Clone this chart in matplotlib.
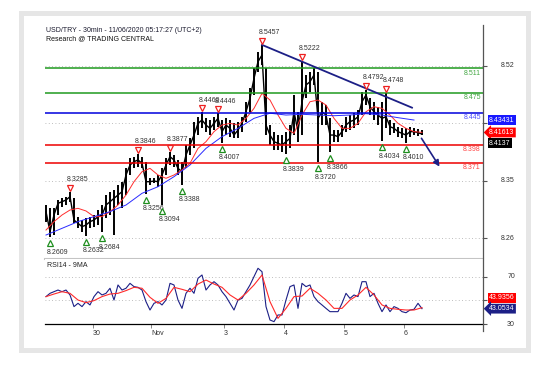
import numpy as np
import matplotlib
matplotlib.use("Agg")
import matplotlib.pyplot as plt
from matplotlib.transforms import blended_transform_factory, offset_copy
from matplotlib.lines import Line2D
from matplotlib.patches import Rectangle

plt.rcParams['font.family'] = ['Liberation Sans', 'DejaVu Sans']

# time grid: hours after the "30" tick, one sample every 1.6 h
n = 95
t = -18.8 + 1.6 * np.arange(n)

close = [8.2990, 8.2694, 8.2940, 8.3113, 8.3137, 8.3162, 8.3211, 8.2866, 8.2817, 8.2768,
         8.2792, 8.2842, 8.2866, 8.2916, 8.2940, 8.3088, 8.3137, 8.3187, 8.3236, 8.3285,
         8.3532, 8.3680, 8.3729, 8.3754, 8.3705, 8.3433, 8.3433, 8.3443, 8.3433, 8.3532,
         8.3680, 8.3803, 8.3754, 8.3630, 8.3581, 8.3828, 8.3975, 8.4123, 8.4296, 8.4345,
         8.4271, 8.4222, 8.4296, 8.4370, 8.4173, 8.4271, 8.4222, 8.4123, 8.4197, 8.4296,
         8.4468, 8.4666, 8.4961, 8.5208, 8.5307, 8.4271, 8.4123, 8.4025, 8.4000, 8.3975,
         8.4025, 8.4074, 8.4468, 8.4173, 8.4616, 8.4863, 8.4912, 8.5011, 8.4370, 8.4468,
         8.4419, 8.4123, 8.4123, 8.4099, 8.4173, 8.4271, 8.4321, 8.4345, 8.4395, 8.4616,
         8.4715, 8.4542, 8.4468, 8.4419, 8.4370, 8.4395, 8.4247, 8.4222, 8.4173, 8.4148,
         8.4123, 8.4173, 8.4173, 8.4158, 8.4137]
high = [8.3088, 8.3039, 8.3039, 8.3162, 8.3187, 8.3211, 8.3285, 8.3187, 8.2916, 8.2866,
        8.2891, 8.2916, 8.2940, 8.3014, 8.3088, 8.3236, 8.3285, 8.3310, 8.3384, 8.3433,
        8.3630, 8.3778, 8.3803, 8.3846, 8.3803, 8.3729, 8.3483, 8.3483, 8.3532, 8.3630,
        8.3778, 8.3877, 8.3828, 8.3754, 8.3729, 8.3975, 8.4074, 8.4321, 8.4395, 8.4460,
        8.4370, 8.4345, 8.4395, 8.4446, 8.4345, 8.4370, 8.4345, 8.4296, 8.4321, 8.4395,
        8.4616, 8.4814, 8.5109, 8.5356, 8.5457, 8.5109, 8.4271, 8.4173, 8.4123, 8.4123,
        8.4173, 8.4271, 8.4715, 8.4468, 8.5222, 8.5011, 8.5060, 8.5109, 8.5060, 8.4616,
        8.4567, 8.4370, 8.4197, 8.4197, 8.4271, 8.4395, 8.4419, 8.4443, 8.4493, 8.4764,
        8.4792, 8.4666, 8.4616, 8.4542, 8.4616, 8.4748, 8.4345, 8.4296, 8.4247, 8.4222,
        8.4222, 8.4247, 8.4232, 8.4212, 8.4197]
low = [8.2842, 8.2609, 8.2644, 8.2940, 8.3063, 8.3088, 8.3137, 8.2817, 8.2743, 8.2694,
       8.2632, 8.2743, 8.2768, 8.2792, 8.2684, 8.2891, 8.2940, 8.2650, 8.3088, 8.3039,
       8.3236, 8.3532, 8.3630, 8.3655, 8.3630, 8.3256, 8.3384, 8.3409, 8.3359, 8.3094,
       8.3532, 8.3680, 8.3655, 8.3532, 8.3388, 8.3630, 8.3828, 8.3926, 8.4123, 8.4222,
       8.4173, 8.4123, 8.4197, 8.4247, 8.4007, 8.4123, 8.4099, 8.4074, 8.4074, 8.4173,
       8.4321, 8.4468, 8.4715, 8.5060, 8.5159, 8.4123, 8.3975, 8.3902, 8.3902, 8.3877,
       8.3839, 8.3926, 8.4123, 8.4025, 8.4123, 8.4666, 8.4764, 8.4863, 8.3720, 8.4271,
       8.4271, 8.3866, 8.4025, 8.4025, 8.4099, 8.4173, 8.4197, 8.4222, 8.4271, 8.4419,
       8.4567, 8.4419, 8.4345, 8.4271, 8.4034, 8.4222, 8.4123, 8.4148, 8.4099, 8.4074,
       8.4010, 8.4099, 8.4123, 8.4114, 8.4123]

# moving averages (red on every 2nd sample, blue on every 4th)
ma_red = [8.2718, 8.2842, 8.2940, 8.3014, 8.3039, 8.3000, 8.2916, 8.2916, 8.2990, 8.3088,
          8.3236, 8.3433, 8.3581, 8.3630, 8.3532, 8.3483, 8.3532, 8.3606, 8.3705, 8.3926,
          8.4025, 8.4173, 8.4271, 8.4296, 8.4271, 8.4370, 8.4518, 8.4740, 8.4641, 8.4419,
          8.4222, 8.4148, 8.4419, 8.4616, 8.4641, 8.4567, 8.4370, 8.4222, 8.4222, 8.4296,
          8.4468, 8.4542, 8.4518, 8.4419, 8.4296, 8.4222, 8.4173, 8.4163]
ma_blue = [8.2644, 8.2743, 8.2842, 8.2916, 8.2990, 8.3088, 8.3261, 8.3359, 8.3507, 8.3680,
           8.3926, 8.4099, 8.4222, 8.4370, 8.4446, 8.4419, 8.4430, 8.4419, 8.4409, 8.4419,
           8.4439, 8.4419, 8.4380, 8.4345]

rsi = [53.3, 56.1, 57.5, 58.9, 57.5, 58.9, 54.7, 44.8, 47.6, 44.8,
       49.0, 46.2, 53.3, 57.5, 54.7, 56.1, 60.4, 50.4, 63.2, 58.9,
       60.4, 64.6, 61.8, 61.2, 58.9, 49.0, 41.9, 47.6, 49.0, 46.2,
       50.4, 64.6, 63.2, 50.4, 43.3, 56.1, 60.4, 56.1, 68.9, 71.7,
       58.9, 63.2, 66.0, 63.2, 57.5, 53.3, 47.6, 41.9, 50.4, 51.8,
       57.5, 63.2, 70.3, 77.4, 74.5, 44.8, 33.4, 32.0, 37.7, 37.7,
       50.4, 61.8, 63.2, 43.3, 64.6, 61.8, 63.2, 53.3, 49.0, 46.2,
       43.3, 40.5, 40.5, 40.5, 47.6, 56.1, 51.8, 54.7, 53.3, 66.0,
       66.0, 53.3, 56.1, 47.6, 40.5, 46.2, 40.5, 44.8, 43.3, 40.5,
       39.6, 41.9, 42.5, 47.6, 43.05]
rsi_ma = [53.3, 55.5, 57.5, 56.1, 50.4, 48.2, 49.9, 53.3, 55.5, 56.1,
          58.4, 61.2, 60.4, 52.7, 47.6, 51.8, 61.2, 59.5, 57.5, 64.0,
          67.4, 64.0, 61.2, 54.7, 50.4, 56.1, 63.2, 71.7, 49.0, 34.8,
          43.3, 53.3, 53.8, 60.4, 56.1, 50.4, 43.3, 43.3, 50.4, 54.7,
          61.2, 54.7, 46.2, 43.3, 42.5, 41.9, 41.9, 43.9]

high_idx = [6, 23, 31, 39, 43, 54, 64, 80, 85]
low_idx = [1, 10, 14, 25, 29, 34, 44, 60, 68, 71, 84, 90]

levels = [8.511, 8.475, 8.445, 8.398, 8.371]
level_colors = ['#1f9a1f', '#1f9a1f', '#0000dd', '#ee0000', '#ee0000']
level_text_colors = ['#45a845', '#45a845', '#5050ff', '#ff4545', '#ff4545']

trend_t = [67.6, 127.6]
trend_p = [8.5457, 8.4528]
arrow_t = [130.8, 139.2]
arrow_p = [8.4109, 8.3621]

day_ticks = [0, 23.2, 52.4, 76.4, 100.4, 124.4]
day_labels = ['30', 'Nov', '3', '4', '5', '6']
price_ticks = [8.26, 8.345, 8.43, 8.515]
# the 8.43 label sits under the blue value box in the original, so it is not drawn
price_labels = ['8.26', '8.35', '', '8.52']

navy = '#1c1f86'
W, H = 539, 365
FS = 5


def box(x0, y0, x1, y1):
    return [x0 / W, 1 - y1 / H, (x1 - x0) / W, (y1 - y0) / H]


fig = plt.figure(figsize=(W / 100, H / 100), dpi=100)
fig.patch.set_facecolor('white')
fig.add_artist(Rectangle((20.5 / W, 1 - 349.5 / H), 507 / W, 337 / H, transform=fig.transFigure,
                         fill=False, ec='#e6e6e6', lw=3.6))

ax = fig.add_axes(box(45, 25, 483, 259))
ax2 = fig.add_axes(box(45, 259, 483, 324))
for a in (ax, ax2):
    a.set_xlim(-19.2, 156)
    for s in a.spines.values():
        s.set_visible(False)
ax.set_ylim(8.26 - 21 / 676, 8.26 + 213 / 676)
ax2.set_ylim(30, 85.3)

ax.spines['bottom'].set_visible(True)
ax.spines['bottom'].set_color('#c4c4c4')
ax.spines['bottom'].set_linewidth(1.5)
ax2.spines['bottom'].set_visible(True)
ax2.spines['bottom'].set_color('black')
ax2.spines['bottom'].set_linewidth(0.9)

# dotted grid
for v in price_ticks:
    ax.axhline(v, color='#a8a8a8', lw=0.6, ls=(0, (1, 3)), zorder=1)
for v in [70, 50]:
    ax2.axhline(v, color='#a8a8a8', lw=0.6, ls=(0, (1, 3)), zorder=1)

# price bars
ax.vlines(t, low, high, color='black', lw=1.4, zorder=2)
ax.plot(t, close, color='black', lw=1.0, zorder=2)
ax.plot(t[::2], ma_red, color='#ff2e2e', lw=0.7, zorder=3)
ax.plot(t[::4], ma_blue, color='#2a2aff', lw=0.7, zorder=3)

# levels
trY = blended_transform_factory(ax.transAxes, ax.transData)
for lv, c, tc in zip(levels, level_colors, level_text_colors):
    ax.axhline(lv, color=c, lw=1.1, zorder=4)
    ax.text(0.995, lv, f'{lv:.3f}', transform=offset_copy(trY, fig=fig, y=-5, units='dots'),
            ha='right', va='center', fontsize=FS, color=tc)

# trend line + arrow
ax.plot(trend_t, trend_p, color=navy, lw=1.3, zorder=5)
ax.annotate('', xy=(arrow_t[1], arrow_p[1]), xytext=(arrow_t[0], arrow_p[0]),
            arrowprops=dict(arrowstyle='-|>', color=navy, lw=1.2, mutation_scale=9), zorder=5)

# pivot markers
up_m = offset_copy(ax.transData, fig=fig, y=4, units='dots')
up_t = offset_copy(ax.transData, fig=fig, x=-3, y=12, units='dots')
dn_m = offset_copy(ax.transData, fig=fig, y=-6, units='dots')
dn_t = offset_copy(ax.transData, fig=fig, x=-3, y=-15, units='dots')
for i in high_idx:
    ax.plot(t[i], high[i], marker='v', ms=5, mfc='white', mec='#ee2020', mew=0.9,
            transform=up_m, zorder=6)
    ax.text(t[i], high[i], f'{high[i]:.4f}', transform=up_t, ha='left', va='center',
            fontsize=FS, color='#333333', zorder=6)
for i in low_idx:
    ax.plot(t[i], low[i], marker='^', ms=5, mfc='white', mec='#1e8e1e', mew=0.9,
            transform=dn_m, zorder=6)
    ax.text(t[i], low[i], f'{low[i]:.4f}', transform=dn_t, ha='left', va='center',
            fontsize=FS, color='#333333', zorder=6)

# right price scale
ax.set_xticks([])
ax.set_yticks(price_ticks)
ax.yaxis.set_ticks_position('right')
ax.tick_params(axis='y', direction='out', length=3, width=0.8, color='#555555', labelright=False)
for v, lab in zip(price_ticks, price_labels):
    if lab:
        ax.text(1.073, v, lab, transform=trY, ha='right', va='center', fontsize=FS, color='#333333')

bx = (489 - 45) / 438
ax.text(bx, 8.43431, '8.43431', transform=trY, ha='left', va='center', fontsize=FS, color='white',
        bbox=dict(boxstyle='square,pad=0.2', fc='#1818ff', ec='none'), zorder=7)
ax.text(bx, 8.41613, '8.41613', transform=trY, ha='left', va='center', fontsize=FS, color='white',
        bbox=dict(boxstyle='larrow,pad=0.2', fc='#ff0000', ec='none'), zorder=7)
ax.text(bx, close[-1], f'{close[-1]:.4f}', transform=offset_copy(trY, fig=fig, y=-9, units='dots'),
        ha='left', va='center', fontsize=FS, color='white',
        bbox=dict(boxstyle='square,pad=0.2', fc='black', ec='none'), zorder=7)

# RSI panel
ax2.plot(t, rsi, color=navy, lw=0.8, zorder=3)
ax2.plot(t[::2], rsi_ma, color='#ff2a2a', lw=0.8, zorder=3)
ax2.text(0.005, 0.9, 'RSI14 - 9MA', transform=ax2.transAxes, ha='left', va='center',
         fontsize=FS, color='#222222')
tr2 = blended_transform_factory(ax2.transAxes, ax2.transData)
ax2.set_yticks([30, 50, 70])
ax2.yaxis.set_ticks_position('right')
ax2.tick_params(axis='y', direction='out', length=3, width=0.8, color='#555555', labelright=False)
for v in [70, 30]:
    ax2.text(1.073, v, str(v), transform=tr2, ha='right', va='center', fontsize=FS, color='#333333')
ax2.text(bx, rsi_ma[-1], '43.9356', transform=offset_copy(tr2, fig=fig, y=10, units='dots'),
         ha='left', va='center', fontsize=FS, color='white',
         bbox=dict(boxstyle='square,pad=0.2', fc='#ff0000', ec='none'), zorder=7)
ax2.text(bx, rsi[-1], '43.0534', transform=tr2, ha='left', va='center', fontsize=FS, color='white',
         bbox=dict(boxstyle='larrow,pad=0.2', fc=navy, ec='none'), zorder=7)

ax2.set_xticks(day_ticks)
ax2.set_xticklabels(day_labels, fontsize=FS, color='#333333')
for lbl in ax2.get_xticklabels():
    lbl.set_ha('left')
ax2.tick_params(axis='x', direction='out', length=3, width=0.7, color='#888888', pad=1)

# right axis line across both panels
fig.add_artist(Line2D([483 / W, 483 / W], [1 - 25 / H, 1 - 331 / H], color='#555555', lw=0.9))

fig.text(46 / W, 1 - 30 / H, 'USD/TRY - 30min - 11/06/2020 05:17:27 (UTC+2)', fontsize=FS,
         va='center', color='#1a1a2e')
fig.text(46 / W, 1 - 38.5 / H, 'Research @ TRADING CENTRAL', fontsize=FS, va='center', color='#111111')

fig.savefig('out.png', dpi=100)
